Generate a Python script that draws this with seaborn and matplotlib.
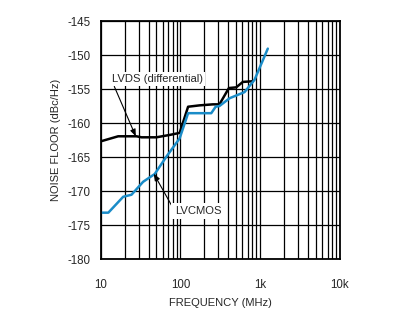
import numpy as np
import pandas as pd
import matplotlib
matplotlib.use("Agg")
import matplotlib.pyplot as plt
import seaborn as sns
from matplotlib.ticker import LogLocator, FixedLocator, NullFormatter

# Data
lvds_freq = [10, 16.6, 28.2, 32.6, 50, 73.6, 98, 125, 174, 256, 309, 406, 501, 607, 809]
lvds_noise = [-162.65, -161.9, -161.9, -162.05, -162.05, -161.7, -161.4, -157.55, -157.35,
              -157.2, -157.2, -154.8, -154.7, -153.9, -153.8]
lvcmos_freq = [10, 12.5, 19.2, 24.4, 34.1, 47.7, 66.8, 98, 125, 244, 277, 309, 414, 637, 850, 1248]
lvcmos_noise = [-173.14, -173.14, -170.8, -170.5, -168.6, -167.45, -164.9, -162.2, -158.5,
                -158.5, -157.55, -157.45, -156.3, -155.4, -153.6, -149.0]
y_ticks = [-145, -150, -155, -160, -165, -170, -175, -180]
x_ticks = [10, 100, 1000, 10000]
x_tick_labels = ["10", "100", "1k", "10k"]

df = pd.concat([
    pd.DataFrame({"freq": lvds_freq, "noise": lvds_noise, "series": "LVDS"}),
    pd.DataFrame({"freq": lvcmos_freq, "noise": lvcmos_noise, "series": "LVCMOS"}),
])

sns.set_style("white")
plt.rcParams["font.family"] = ["Liberation Sans", "DejaVu Sans"]

fig = plt.figure(figsize=(4.14, 3.35), dpi=100)
ax = fig.add_axes([0.243, 0.226, 0.578, 0.710])

ax.set_xscale("log")
ax.set_xlim(10, 10000)
ax.set_ylim(-180, -145)

ax.xaxis.set_major_locator(FixedLocator(x_ticks))
ax.xaxis.set_minor_locator(LogLocator(base=10, subs=np.arange(2, 10)))
ax.xaxis.set_minor_formatter(NullFormatter())
ax.set_xticks(x_ticks)
ax.set_xticklabels(x_tick_labels)
ax.set_yticks(y_ticks)
ax.set_yticklabels([str(v) for v in y_ticks])

ax.grid(True, which="major", color="black", linewidth=0.9)
ax.grid(True, which="minor", axis="x", color="black", linewidth=0.9)
ax.set_axisbelow(True)

sns.lineplot(data=df, x="freq", y="noise", hue="series",
             palette={"LVDS": "black", "LVCMOS": "#1a8cc8"},
             linewidth=1.8, legend=False, ax=ax, sort=False, estimator=None)

for s in ax.spines.values():
    s.set_color("black")
    s.set_linewidth(1.3)

ax.tick_params(axis="both", which="both", length=0, labelsize=8.3)
ax.tick_params(axis="y", pad=7)
ax.tick_params(axis="x", pad=14)

ax.set_xlabel("FREQUENCY (MHz)", fontsize=8.0, labelpad=5)
ax.set_ylabel("NOISE FLOOR (dBc/Hz)", fontsize=8.0, labelpad=5)

ax.annotate("LVDS (differential)", xy=(27.6, -161.9), xytext=(13.7, -153.5),
            fontsize=8.1, ha="left", va="center", zorder=5,
            bbox=dict(boxstyle="square,pad=0.2", fc="white", ec="none"),
            arrowprops=dict(arrowstyle="-|>,head_length=0.5,head_width=0.2",
                            color="black", lw=0.8, shrinkA=0, shrinkB=0,
                            relpos=(0.02, 0.0)))
ax.annotate("LVCMOS", xy=(46.4, -167.4), xytext=(85, -172.9),
            fontsize=8.1, ha="left", va="center", zorder=5,
            bbox=dict(boxstyle="square,pad=0.3", fc="white", ec="none"),
            arrowprops=dict(arrowstyle="-|>,head_length=0.5,head_width=0.2",
                            color="black", lw=0.8, shrinkA=0, shrinkB=0,
                            relpos=(0.0, 0.5)))

fig.savefig("out.png", dpi=100)
